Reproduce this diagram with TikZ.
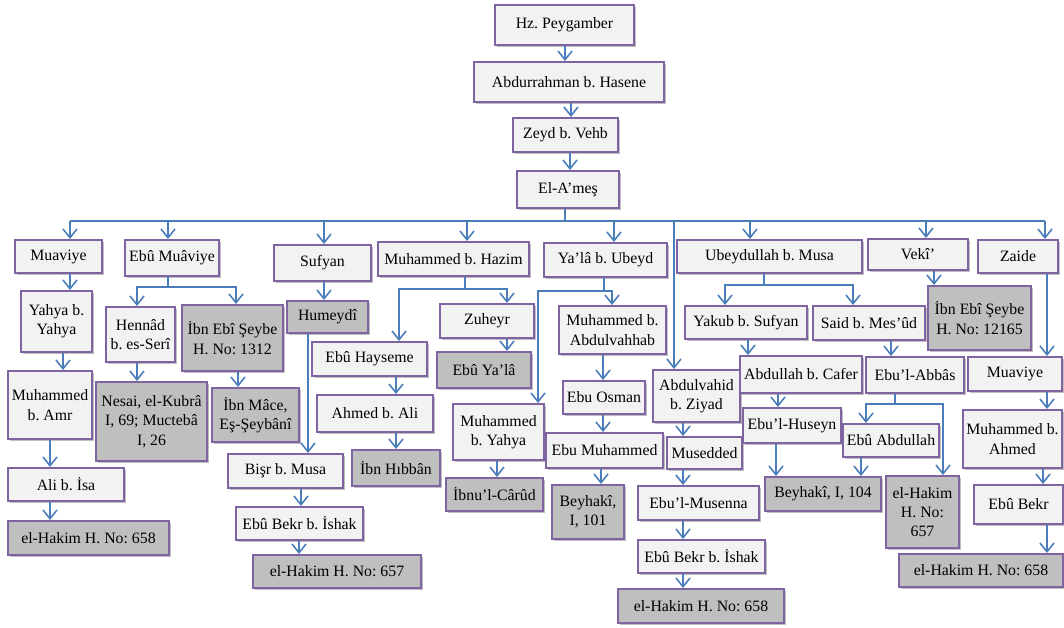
\documentclass[tikz,border=0pt]{standalone}
\usepackage{fontspec}
\setmainfont{Liberation Serif}
\usetikzlibrary{arrows.meta,shadows}
\frenchspacing

\definecolor{boxline}{HTML}{8064A2}
\definecolor{lightfill}{HTML}{F2F2F2}
\definecolor{darkfill}{HTML}{BFBFBF}
\definecolor{arrowblue}{HTML}{4A7EBB}

% box from its corners (x1,y1,x2,y2 in px)
\newcommand{\ravi}[7]{%
  \node[#1, minimum width={(#4-#2)*0.02cm}, minimum height={(#5-#3)*0.02cm}]
    (#6) at ({(#2+#4)/2},{(#3+#5)/2}) {#7};}

\tikzset{
  basebox/.style={draw=boxline, line width=1.1pt, align=center, inner sep=1pt,
    font=\fontsize{9}{11}\selectfont,
    drop shadow={shadow xshift=1pt, shadow yshift=-1pt, opacity=0.25, fill=black}},
  ravibox/.style={basebox, fill=lightfill},
  srcbox/.style={basebox, fill=darkfill},
  link/.style={draw=arrowblue, line width=0.9pt},
  arr/.style={link, -{Straight Barb[length=5pt,width=8pt,line width=0.9pt]}},
}

\begin{document}
\begin{tikzpicture}[x=0.02cm, y=-0.02cm]
    \useasboundingbox (0,0) rectangle (1064,628);

    % Top chain
    \ravi{ravibox}{495}{5}{634}{45}{peyg}{Hz. Peygamber}
    \ravi{ravibox}{474}{62}{664}{102}{abdur}{Abdurrahman b. Hasene}
    \ravi{ravibox}{513}{118}{618}{152}{zeyd}{Zeyd b. Vehb}
    \ravi{ravibox}{517}{171}{619}{208}{ames}{El-A’meş}

    % Students of El-A'mes
    \ravi{ravibox}{15}{240}{102}{273}{muav1}{Muaviye}
    \ravi{ravibox}{125}{240}{219}{276}{ebumuav}{Ebû Muâviye}
    \ravi{ravibox}{274}{245}{371}{281}{sufyan}{Sufyan}
    \ravi{ravibox}{378}{242}{529}{276}{hazim}{Muhammed b. Hazim}
    \ravi{ravibox}{544}{243}{667}{277}{yala}{Ya’lâ b. Ubeyd}
    \ravi{ravibox}{677}{240}{862}{273}{ubeyd}{Ubeydullah b. Musa}
    \ravi{ravibox}{868}{239}{968}{270}{veki}{Vekî’}
    \ravi{ravibox}{978}{240}{1058}{273}{zaide}{Zaide}

    % Muaviye / Ebu Muaviye / Sufyan lines
    \ravi{ravibox}{21}{291}{92}{352}{yahya}{Yahya b.\\Yahya}
    \ravi{ravibox}{8}{371}{92}{439}{amr}{Muhammed\\b. Amr}
    \ravi{ravibox}{8}{468}{124}{501}{ali}{Ali b. İsa}
    \ravi{srcbox}{8}{521}{169}{555}{hakim1}{el-Hakim H. No: 658}
    \ravi{ravibox}{106}{307}{175}{362}{hennad}{Hennâd\\b. es-Serî}
    \ravi{srcbox}{182}{305}{283}{371}{ibnebi1}{İbn Ebî Şeybe\\H. No: 1312}
    \ravi{srcbox}{96}{382}{207}{461}{nesai}{Nesai, el-Kubrâ\\I, 69; Muctebâ\\I, 26}
    \ravi{srcbox}{212}{388}{299}{442}{ibnmace}{İbn Mâce,\\Eş-Şeybânî}
    \ravi{srcbox}{287}{301}{368}{333}{humeydi}{Humeydî}
    \ravi{ravibox}{228}{454}{343}{488}{bisr}{Bişr b. Musa}
    \ravi{ravibox}{236}{507}{363}{540}{ebubekr1}{Ebû Bekr b. İshak}
    \ravi{srcbox}{253}{555}{421}{588}{hakim2}{el-Hakim H. No: 657}

    % Muhammed b. Hazim / Ya'la b. Ubeyd lines
    \ravi{ravibox}{312}{342}{427}{376}{hayseme}{Ebû Hayseme}
    \ravi{ravibox}{317}{395}{433}{432}{ahmed}{Ahmed b. Ali}
    \ravi{srcbox}{352}{450}{440}{486}{hibban}{İbn Hıbbân}
    \ravi{ravibox}{440}{304}{534}{338}{zuheyr}{Zuheyr}
    \ravi{srcbox}{437}{352}{531}{388}{ebuyala}{Ebû Ya’lâ}
    \ravi{ravibox}{453}{404}{544}{460}{muhyahya}{Muhammed\\b. Yahya}
    \ravi{srcbox}{446}{478}{543}{511}{carud}{İbnu’l-Cârûd}
    \ravi{ravibox}{559}{306}{666}{354}{vahhab}{Muhammed b.\\Abdulvahhab}
    \ravi{ravibox}{563}{381}{645}{414}{osman}{Ebu Osman}
    \ravi{ravibox}{546}{433}{663}{468}{ebumuh}{Ebu Muhammed}
    \ravi{srcbox}{552}{485}{624}{539}{beyhaki1}{Beyhakî,\\I, 101}

    % Abdulvahid line
    \ravi{ravibox}{653}{370}{740}{422}{vahid}{Abdulvahid\\b. Ziyad}
    \ravi{ravibox}{667}{437}{742}{469}{musedded}{Musedded}
    \ravi{ravibox}{638}{486}{759}{520}{musenna}{Ebu’l-Musenna}
    \ravi{ravibox}{638}{540}{765}{573}{ebubekr2}{Ebû Bekr b. İshak}
    \ravi{srcbox}{618}{589}{784}{623}{hakim3}{el-Hakim H. No: 658}

    % Ubeydullah b. Musa line
    \ravi{ravibox}{685}{306}{807}{339}{yakub}{Yakub b. Sufyan}
    \ravi{ravibox}{813}{306}{925}{340}{said}{Said b. Mes’ûd}
    \ravi{ravibox}{740}{356}{862}{393}{cafer}{Abdullah b. Cafer}
    \ravi{ravibox}{743}{408}{841}{443}{huseyn}{Ebu’l-Huseyn}
    \ravi{srcbox}{765}{477}{881}{511}{beyhaki2}{Beyhakî, I, 104}
    \ravi{ravibox}{866}{357}{964}{393}{abbas}{Ebu’l-Abbâs}
    \ravi{ravibox}{843}{424}{939}{457}{abdullah}{Ebû Abdullah}
    \ravi{srcbox}{886}{476}{959}{548}{hakim4}{el-Hakim\\H. No:\\657}

    % Veki / Zaide lines
    \ravi{srcbox}{928}{286}{1031}{350}{ibnebi2}{İbn Ebî Şeybe\\H. No: 12165}
    \ravi{ravibox}{968}{357}{1062}{391}{muav2}{Muaviye}
    \ravi{ravibox}{963}{410}{1062}{468}{ahmed2}{Muhammed b.\\Ahmed}
    \ravi{ravibox}{974}{485}{1063}{524}{ebubekr3}{Ebû Bekr}
    \ravi{srcbox}{899}{554}{1063}{587}{hakim5}{el-Hakim H. No: 658}

    % Bus under El-A'mes
    \coordinate (busL) at (70,221);
    \coordinate (busR) at (1045,221);
    \draw[link] (busL) -- (busR);
    \draw[link] (ames.south -| 565,0) -- (busL -| 565,0);
    \foreach \nd/\xx in {muav1/70, ebumuav/168, sufyan/324, hazim/467, yala/614,
        ubeyd/750, veki/926, zaide/1045, vahid/674}
        \draw[arr] (busL -| \xx,0) -- (\nd.north -| \xx,0);

    % Straight links
    \foreach \a/\b/\xx in {peyg/abdur/565, abdur/zeyd/571, zeyd/ames/570,
        muav1/yahya/70, yahya/amr/63, amr/ali/50, ali/hakim1/50,
        hennad/nesai/137, ibnebi1/ibnmace/238,
        sufyan/humeydi/324, humeydi/bisr/308, bisr/ebubekr1/301, ebubekr1/hakim2/299,
        hayseme/ahmed/396, ahmed/hibban/396, zuheyr/ebuyala/507,
        muhyahya/carud/497, vahhab/osman/603, osman/ebumuh/603, ebumuh/beyhaki1/601,
        vahid/musedded/683, musedded/musenna/683, musenna/ebubekr2/683, ebubekr2/hakim3/683,
        yakub/cafer/748, cafer/huseyn/778, huseyn/beyhaki2/776,
        said/abbas/891, abdullah/beyhaki2/861,
        veki/ibnebi2/934, zaide/muav2/1047, muav2/ahmed2/1047,
        ahmed2/ebubekr3/1043, ebubekr3/hakim5/1047}
        \draw[arr] (\a.south -| \xx,0) -- (\b.north -| \xx,0);

    % Forks
    \coordinate (fk1) at (168,287);
    \draw[link] (ebumuav.south -| fk1) -- (fk1);
    \draw[arr] (fk1) -| (hennad.north -| 137,0);
    \draw[arr] (fk1) -| (ibnebi1.north -| 236,0);

    \coordinate (fk2) at (465,289);
    \draw[link] (hazim.south -| fk2) -- (fk2);
    \draw[arr] (fk2) -| (hayseme.north -| 399,0);
    \draw[arr] (fk2) -| (zuheyr.north -| 507,0);

    \coordinate (fk3) at (604,291);
    \draw[link] (yala.south -| fk3) -- (fk3);
    \draw[arr] (fk3) -| (muhyahya.north -| 538,0);
    \draw[arr] (fk3) -| (vahhab.north -| 612,0);

    \coordinate (fk4) at (764,285);
    \draw[link] (ubeyd.south -| fk4) -- (fk4);
    \draw[arr] (fk4) -| (yakub.north -| 725,0);
    \draw[arr] (fk4) -| (said.north -| 853,0);

    \coordinate (fk5) at (895,404);
    \draw[link] (abbas.south -| fk5) -- (fk5);
    \draw[arr] (fk5) -| (abdullah.north -| 866,0);
    \draw[arr] (fk5) -| (hakim4.north -| 943,0);

\end{tikzpicture}
\end{document}
